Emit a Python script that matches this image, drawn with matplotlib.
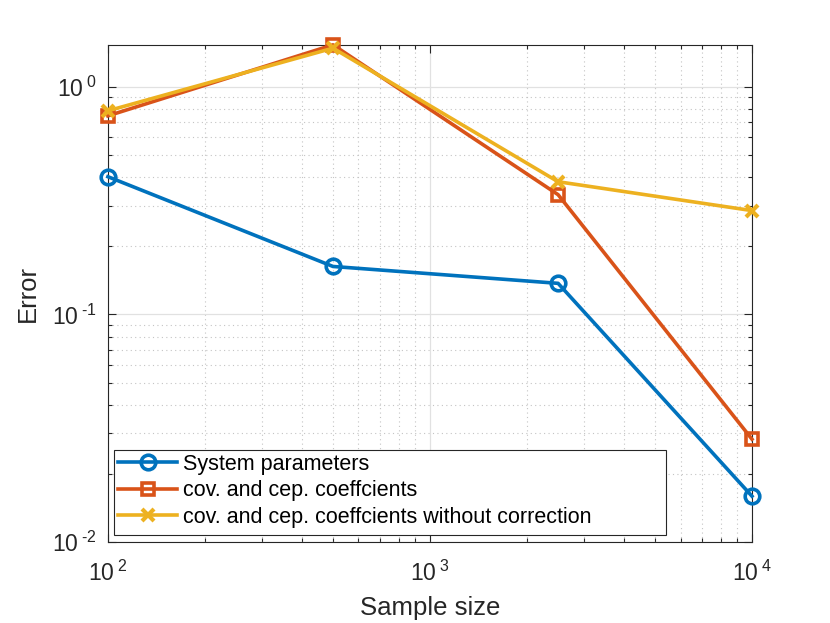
import math
import matplotlib
matplotlib.use("Agg")
import matplotlib.pyplot as plt
from matplotlib.ticker import FuncFormatter, NullFormatter
from matplotlib.patches import Rectangle

plt.rcParams['font.family'] = ['Liberation Sans', 'DejaVu Sans']
plt.rcParams['mathtext.fontset'] = 'custom'
plt.rcParams['mathtext.rm'] = 'Liberation Sans'
plt.rcParams['mathtext.it'] = 'Liberation Sans'

sample_size = [100, 500, 2500, 10000]
sys_params = [0.403, 0.1625, 0.137, 0.0159]
cov_cep = [0.746, 1.53, 0.336, 0.0283]
cov_cep_nocorr = [0.785, 1.48, 0.383, 0.286]
labels = ["System parameters", "cov. and cep. coeffcients",
          "cov. and cep. coeffcients without correction"]

fig = plt.figure(figsize=(8.3, 6.23), dpi=100)
ax = fig.add_axes([0.130, 0.130, 0.776, 0.798])

ax.loglog(sample_size, sys_params, '-o', color='#0072BD', lw=2.6, ms=10.5,
          mfc='none', mew=2.6, label=labels[0], clip_on=False, zorder=3)
ax.loglog(sample_size, cov_cep, '-s', color='#D95319', lw=2.6, ms=9,
          mfc='none', mew=2.6, label=labels[1], clip_on=False, zorder=3)
ax.loglog(sample_size, cov_cep_nocorr, '-x', color='#EDB120', lw=2.6, ms=9,
          mew=3.0, label=labels[2], clip_on=False, zorder=3)

ax.set_xlim(100, 10000)
ax.set_ylim(0.01, max(cov_cep))


def fmt_pow(v, p):
    e = round(math.log10(v))
    es = (r'\text{-}%d' % -e) if e < 0 else '%d' % e
    return r'$\mathregular{10^{\;%s}}$' % es


ax.xaxis.set_major_formatter(FuncFormatter(fmt_pow))
ax.yaxis.set_major_formatter(FuncFormatter(fmt_pow))
ax.xaxis.set_minor_formatter(NullFormatter())
ax.yaxis.set_minor_formatter(NullFormatter())

ax.grid(True, which='major', color='#e1e1e1', lw=0.9, ls='-')
ax.grid(True, which='minor', color='#c4c4c4', lw=0.8, ls=(0, (1, 3)))
ax.set_axisbelow(True)
ax.tick_params(which='both', direction='in', top=True, right=True,
               colors='#262626', labelsize=16.5)
ax.tick_params(axis='x', which='major', pad=13.5)
ax.tick_params(axis='y', which='major', pad=8)
ax.tick_params(which='major', length=6, width=0.8)
ax.tick_params(which='minor', length=3, width=0.8)
for s in ax.spines.values():
    s.set_color('#262626')
    s.set_linewidth(0.8)

ax.set_xlabel('Sample size', fontsize=18.5, color='#262626', labelpad=7)
ax.set_ylabel('Error', fontsize=18.5, color='#262626', labelpad=9)

# legend box (MATLAB-like wide frame)
ax.add_patch(Rectangle((0.0093, 0.014), 0.857, 0.171, transform=ax.transAxes,
                       facecolor='white', edgecolor='#262626', lw=0.8,
                       zorder=4.9, clip_on=False))
leg = ax.legend(loc='upper left', fontsize=15.5, frameon=False,
                handlelength=2.74, borderpad=0.0, labelspacing=0.26,
                handletextpad=0.28, borderaxespad=0.0,
                bbox_to_anchor=(0.016, 0.178))
leg.set_zorder(5)

fig.savefig('out.png', dpi=100)
